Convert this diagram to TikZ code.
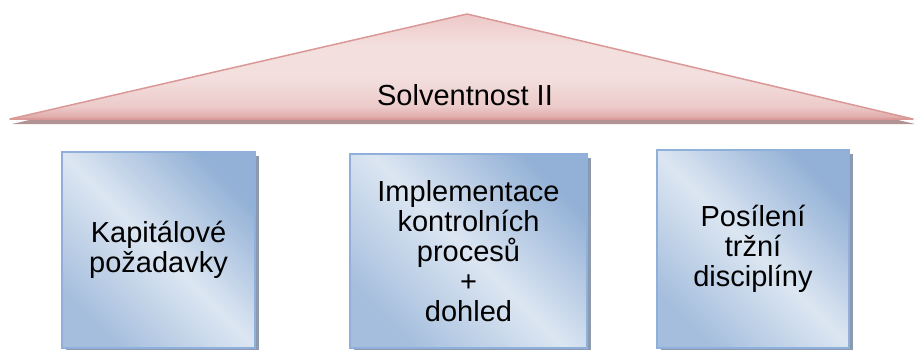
\documentclass[tikz,border=0pt]{standalone}
\usepackage{fontspec}
\setmainfont{Liberation Sans}
\usetikzlibrary{shadows}

\definecolor{roofline}{HTML}{DA9897}
\definecolor{rooftop}{HTML}{EDC8C8}
\definecolor{roofmid}{HTML}{F3DFDE}
\definecolor{roofbot}{HTML}{DEA6A5}
\definecolor{roofshadow}{HTML}{B29292}
\definecolor{boxline}{HTML}{8EB0DB}
\definecolor{boxdark}{HTML}{93B1D6}
\definecolor{boxlight}{HTML}{DCE6F2}
\definecolor{boxshadow}{HTML}{8D9AAD}

\pgfdeclareverticalshading{roofshade}{100bp}{color(0bp)=(roofbot); color(25bp)=(roofbot);
  color(31bp)=(roofmid!65!roofbot); color(45bp)=(roofmid); color(60bp)=(roofmid); color(75bp)=(rooftop);
  color(100bp)=(rooftop)}

\tikzset{
  pillar/.style={draw=boxline, line width=1.5pt, top color=boxdark, bottom color=boxdark!75!boxlight,
    middle color=boxlight, shading angle=-45, inner sep=0pt, align=center,
    font=\fontsize{29}{30}\selectfont,
    drop shadow={shadow xshift=4pt, shadow yshift=-4pt, fill=boxshadow, opacity=1}},
  roof/.style={draw=roofline, line width=1.5pt, line join=round, shading=roofshade,
    drop shadow={shadow xshift=2pt, shadow yshift=-5pt, fill=roofshadow, opacity=1}}
}

\begin{document}
\begin{tikzpicture}[x=1pt, y=-1pt]
\useasboundingbox (0,0) rectangle (916,349);

\coordinate (eaveL) at (10,119);
\coordinate (apex) at (467,14);
\coordinate (eaveR) at (913,119);
\path[roof] (eaveL) -- (apex) -- (eaveR) -- cycle;
\node[font=\fontsize{29}{30}\selectfont] (solv) at (465,95) {Solventnost II};

\node[pillar, minimum width=193pt, minimum height=196pt, text width=180pt] (capital) at (158.5,250) {Kapitálové\\požadavky};
\node[pillar, minimum width=237pt, minimum height=194pt, text width=225pt] (control) at (468.5,251) {Implementace\\kontrolních\\procesů\\+\\dohled};
\node[pillar, minimum width=192pt, minimum height=198pt, text width=180pt] (market) at (753,249) {Posílení\\tržní\\disciplíny};

\end{tikzpicture}
\end{document}
